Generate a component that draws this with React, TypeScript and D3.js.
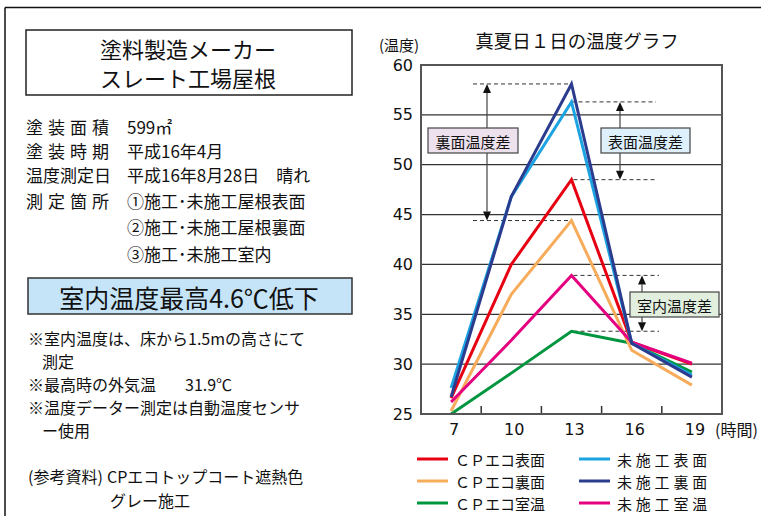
import React from "react";
import * as d3 from "d3";

// Measurement hours (x categories)
const hours = ["7", "10", "13", "16", "19"];
const yTicks = [25, 30, 35, 40, 45, 50, 55, 60];

// Temperatures (°C) per series
const cpSurface = [26.6, 40.0, 48.5, 32.2, 30.0];
const cpBack = [25.3, 37.0, 44.4, 31.4, 27.9];
const cpRoom = [25.0, 29.1, 33.3, 32.1, 29.2];
const rawSurface = [27.6, 46.8, 56.3, 32.1, 28.9];
const rawBack = [26.7, 46.8, 58.1, 32.1, 28.7];
const rawRoom = [26.2, 32.4, 38.9, 32.2, 30.1];

const seriesNames = ["ＣＰエコ表面", "ＣＰエコ裏面", "ＣＰエコ室温", "未施工表面", "未施工裏面", "未施工室温"];
const seriesValues = [cpSurface, cpBack, cpRoom, rawSurface, rawBack, rawRoom];
const seriesColors = ["#e60012", "#f7ac5c", "#00963f", "#1ba3e2", "#2b3c8f", "#e4007f"];
// drawing order (later on top)
const drawOrder = [2, 1, 0, 5, 3, 4];

const JP = "'Noto Sans CJK JP', sans-serif";
const NUM = "'DejaVu Sans', sans-serif";

const W = 761;
const H = 516;

const x = d3.scaleBand<string>().domain(hours).range([421, 722]);
const y = d3.scaleLinear().domain([25, 60]).range([414, 65]);
const cx = (h: string) => (x(h) as number) + x.bandwidth() / 2;

const line = d3
  .line<number>()
  .x((_, i) => cx(hours[i]))
  .y((d) => y(d));

function DoubleArrow({ ax, y1, y2 }: { ax: number; y1: number; y2: number }) {
  const hl = 9;
  const hw = 4;
  return (
    <g>
      <line x1={ax} x2={ax} y1={y1 + hl} y2={y2 - hl} stroke="#444" strokeWidth={1.2} />
      <path d={`M${ax},${y1} L${ax - hw},${y1 + hl} L${ax + hw},${y1 + hl} Z`} fill="#111" />
      <path d={`M${ax},${y2} L${ax - hw},${y2 - hl} L${ax + hw},${y2 - hl} Z`} fill="#111" />
    </g>
  );
}

function Dashed({ x1, x2, yy }: { x1: number; x2: number; yy: number }) {
  return <line x1={x1} x2={x2} y1={yy} y2={yy} stroke="#333" strokeWidth={1} strokeDasharray="4,3" />;
}

function LabelBox({ x0, y0, w, h, fill, text }: { x0: number; y0: number; w: number; h: number; fill: string; text: string }) {
  return (
    <g>
      <rect x={x0} y={y0} width={w} height={h} fill={fill} stroke="#444" strokeWidth={1.2} />
      <text
        x={x0 + w / 2}
        y={y0 + h / 2 + 1}
        textAnchor="middle"
        dominantBaseline="central"
        fontFamily={JP}
        fontSize={15}
        fill="#111"
      >
        {text}
      </text>
    </g>
  );
}

export default function App() {
  const x13 = cx("13");
  const plotL = 421;
  const plotR = 722;

  const infoRows: [string, string, number][] = [
    ["塗装面積", "599㎡", 126],
    ["塗装時期", "平成16年4月", 150],
    ["温度測定日", "平成16年8月28日　晴れ", 174],
    ["測定箇所", "①施工･未施工屋根表面", 200],
    ["", "②施工･未施工屋根裏面", 226],
    ["", "③施工･未施工室内", 253],
  ];

  const notes: [string, number, number][] = [
    ["※室内温度は、床から1.5mの高さにて", 28, 338],
    ["測定", 42, 361],
    ["※最高時の外気温", 28, 384],
    ["※温度データー測定は自動温度センサ", 28, 407],
    ["ー使用", 42, 430],
    ["(参考資料)", 28, 476],
    ["CPエコトップコート遮熱色", 107, 476],
    ["グレー施工", 110, 500],
  ];

  return (
    <svg
      width={W}
      height={H}
      viewBox={`0 0 ${W} ${H}`}
      style={{ position: "absolute", left: 0, top: 0, background: "#fff" }}
    >
      <rect x={0} y={0} width={W} height={H} fill="#fff" />

      {/* outer frame */}
      <line x1={5} x2={W} y1={7.5} y2={7.5} stroke="#111" strokeWidth={1.5} />
      <line x1={5} x2={5} y1={7.5} y2={H} stroke="#111" strokeWidth={1.5} />

      {/* left panel */}
      <rect x={26} y={30} width={326} height={65} fill="#fff" stroke="#222" strokeWidth={1.5} />
      <text x={188} y={48} textAnchor="middle" dominantBaseline="central" fontFamily={JP} fontSize={22} fill="#111">
        塗料製造メーカー
      </text>
      <text x={188} y={77} textAnchor="middle" dominantBaseline="central" fontFamily={JP} fontSize={22} fill="#111">
        スレート工場屋根
      </text>

      {infoRows.map(([label, value, yy], i) => (
        <g key={i}>
          {label && (
            <text
              x={26}
              y={yy}
              dominantBaseline="central"
              fontFamily={JP}
              fontSize={17}
              fill="#111"
              letterSpacing={label.length === 4 ? 5 : 0}
            >
              {label}
            </text>
          )}
          <text x={127} y={yy} dominantBaseline="central" fontFamily={JP} fontSize={17} fill="#111">
            {value}
          </text>
        </g>
      ))}

      <rect x={28} y={278} width={324} height={36} fill="#c6e4f7" stroke="#333" strokeWidth={1.5} />
      <text x={189} y={297} textAnchor="middle" dominantBaseline="central" fontFamily={JP} fontSize={25} fill="#111">
        室内温度最高4.6℃低下
      </text>

      {notes.map(([t, tx, ty], i) => (
        <text key={i} x={tx} y={ty} dominantBaseline="central" fontFamily={JP} fontSize={16} fill="#111">
          {t}
        </text>
      ))}
      <text x={185} y={384} dominantBaseline="central" fontFamily={JP} fontSize={16} fill="#111">
        31.9℃
      </text>

      {/* chart title */}
      <text x={577} y={40} textAnchor="middle" dominantBaseline="central" fontFamily={JP} fontSize={18.5} fill="#111">
        真夏日１日の温度グラフ
      </text>
      <text x={379} y={44} dominantBaseline="central" fontFamily={JP} fontSize={15} fill="#111">
        (温度)
      </text>

      {/* grid lines */}
      {yTicks.slice(1, -1).map((t) => (
        <line key={t} x1={plotL} x2={plotR} y1={y(t)} y2={y(t)} stroke="#333" strokeWidth={1.2} />
      ))}

      {/* y tick labels */}
      {yTicks.map((t) => (
        <text
          key={t}
          x={413}
          y={y(t)}
          textAnchor="end"
          dominantBaseline="central"
          fontFamily={NUM}
          fontSize={16}
          fill="#111"
        >
          {t}
        </text>
      ))}

      {/* x ticks at band boundaries */}
      {hours.slice(1).map((h) => (
        <line
          key={h}
          x1={x(h) as number}
          x2={x(h) as number}
          y1={y(25)}
          y2={y(25) - 8}
          stroke="#333"
          strokeWidth={1.5}
        />
      ))}
      {hours.map((h) => (
        <text
          key={h}
          x={cx(h) + 3}
          y={429}
          textAnchor="middle"
          dominantBaseline="central"
          fontFamily={NUM}
          fontSize={16}
          fill="#111"
        >
          {h}
        </text>
      ))}
      <text x={715} y={429} dominantBaseline="central" fontFamily={JP} fontSize={16} fill="#111">
        (時間)
      </text>

      {/* difference annotations */}
      <Dashed x1={473} x2={x13} yy={y(rawBack[2])} />
      <Dashed x1={473} x2={x13} yy={y(cpBack[2])} />
      <DoubleArrow ax={487} y1={y(rawBack[2])} y2={y(cpBack[2])} />

      <Dashed x1={x13} x2={656} yy={y(rawSurface[2])} />
      <Dashed x1={x13 + 2} x2={656} yy={y(cpSurface[2])} />
      <DoubleArrow ax={620} y1={y(rawSurface[2])} y2={y(cpSurface[2])} />

      <Dashed x1={x13 + 2} x2={659} yy={y(rawRoom[2])} />
      <Dashed x1={x13 + 2} x2={659} yy={y(cpRoom[2])} />
      <DoubleArrow ax={642} y1={y(rawRoom[2])} y2={y(cpRoom[2])} />

      {/* series lines */}
      {drawOrder.map((i) => (
        <path
          key={i}
          d={line(seriesValues[i]) as string}
          fill="none"
          stroke={seriesColors[i]}
          strokeWidth={3}
          strokeLinejoin="miter"
        />
      ))}

      <LabelBox x0={428} y0={128} w={90} h={25} fill="#ede1ee" text="裏面温度差" />
      <LabelBox x0={601} y0={128} w={89} h={25} fill="#ddf0fb" text="表面温度差" />
      <LabelBox x0={630} y0={292} w={89} h={25} fill="#e2efde" text="室内温度差" />

      {/* plot frame */}
      <rect x={plotL} y={y(60)} width={plotR - plotL} height={y(25) - y(60)} fill="none" stroke="#555" strokeWidth={2} />

      {/* legend */}
      {seriesNames.map((name, i) => {
        const col = i < 3 ? 0 : 1;
        const row = i % 3;
        const lx = col === 0 ? 417 : 579;
        const ly = 459 + row * 22;
        return (
          <g key={name}>
            <line x1={lx} x2={lx + 31} y1={ly} y2={ly} stroke={seriesColors[i]} strokeWidth={3} />
            <text
              x={lx + 38}
              y={ly}
              dominantBaseline="central"
              fontFamily={JP}
              fontSize={15}
              fill="#111"
              letterSpacing={col === 1 ? 3.8 : 0}
            >
              {name}
            </text>
          </g>
        );
      })}
    </svg>
  );
}
